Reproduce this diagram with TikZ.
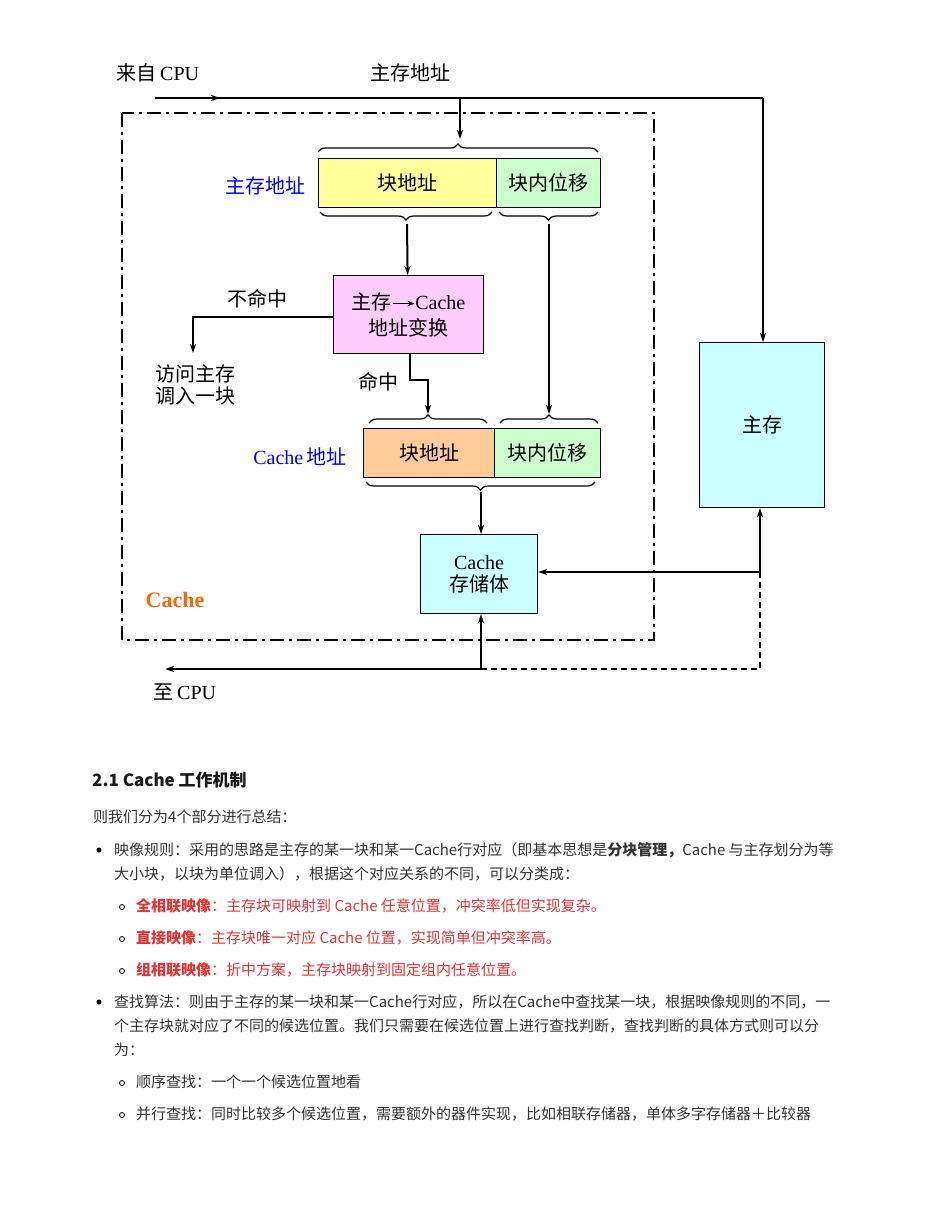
\documentclass[tikz,border=0pt]{standalone}
\usepackage{fontspec}
\setmainfont{Noto Sans CJK SC}
\newfontfamily\lat{Liberation Serif}
\newfontfamily\lsans{Liberation Sans}
\usetikzlibrary{arrows.meta,decorations.pathreplacing}
\definecolor{yel}{HTML}{FFFF99}
\definecolor{grn}{HTML}{CCFFCC}
\definecolor{pnk}{HTML}{FFCCFF}
\definecolor{org}{HTML}{FFCC99}
\definecolor{cyn}{HTML}{CCFFFF}
\definecolor{rd}{HTML}{E53333}
\definecolor{orng}{HTML}{FF6600}
\begin{document}
\begin{tikzpicture}[x=1pt,y=-1pt,
  box/.style={draw,line width=1.2pt,inner sep=0pt,anchor=north west,font=\fontsize{20}{22}\selectfont},
  thick arr/.style={line width=2pt,-{Stealth[length=9pt,width=6pt]}},
  thin arr/.style={line width=1.2pt,-{Stealth[length=9pt,width=6pt]}},
  brc/.style={decorate,decoration={brace,amplitude=8pt},line width=1.2pt},
  lbl/.style={font=\fontsize{20}{22}\selectfont},
  txt/.style={anchor=base west,font=\fontsize{15}{18}\selectfont,inner sep=0pt,text=black!80},
  bul/.style={circle,fill=black,inner sep=0pt,minimum size=5pt},
  sub/.style={circle,draw=black,line width=0.8pt,inner sep=0pt,minimum size=5pt}]
\useasboundingbox (0,0) rectangle (935,1210);
% dash-dot frame
\draw[line width=2pt,dash pattern=on 14pt off 5pt on 3pt off 5pt] (122,113) rectangle (654,640);
% boxes
\node[box,fill=yel,minimum width=178pt,minimum height=49pt] (mb) at (318,158) {块地址};
\node[box,fill=grn,minimum width=104pt,minimum height=49pt] (mo) at (496,158) {块内位移};
\node[box,fill=pnk,minimum width=150pt,minimum height=78pt,align=center] (tr) at (333,275) {主存\raisebox{3pt}{\tikz\draw[line width=1.5pt,-{Stealth[length=7pt]}](0,0)--(22pt,0);}{\lat Cache}\\[4pt]地址变换};
\node[box,fill=org,minimum width=131pt,minimum height=49pt] (cb) at (363,428) {块地址};
\node[box,fill=grn,minimum width=106pt,minimum height=49pt] (co) at (494,428) {块内位移};
\node[box,fill=cyn,minimum width=117pt,minimum height=79pt,align=center] (cs) at (420,534) {{\lat Cache}\\存储体};
\node[box,fill=cyn,minimum width=125pt,minimum height=165pt] (mm) at (699,342) {主存};
% braces
\draw[brc] (318,152) -- (598,152);
\draw[brc] (492,212) -- (320,212);
\draw[brc] (598,212) -- (499,212);
\draw[brc] (369,423) -- (487,423);
\draw[brc] (500,423) -- (598,423);
\draw[brc] (595,482) -- (366,482);
% coordinates
\coordinate (s) at (155,98); \coordinate (t) at (763,98); \coordinate (b) at (460,98);
\coordinate (m1) at (193,317);
\coordinate (h1) at (410,380); \coordinate (h2) at (428,380);
\coordinate (j) at (760,572); \coordinate (d) at (760,669); \coordinate (k) at (481,669);
\coordinate (cpu) at (165,669);
% lines
\draw[line width=1.2pt] (s) -- (t);
\draw[thin arr] (190,98) -- (220,98);
\draw[thin arr,line width=2pt] (t) -- (mm.north -| t);
\draw[thick arr] (b) -- (460,139);
\draw[thick arr] (407,224) -- (mb.south |- tr.north) ;
\draw[thick arr] (549,224) -- (549,414);
\draw[thin arr] (tr.west |- m1) -- (m1) -- (193,353);
\draw[thin arr] (tr.south -| h1) -- (h1) -- (h2) -- (428,414);
\draw[thick arr] (481,492) -- (cs.north -| 481,0);
\draw[thick arr] (j) -- (cs.east |- j);
\draw[thick arr] (j) -- (mm.south -| j);
\draw[line width=2pt,dash pattern=on 6pt off 4pt] (j) -- (d) -- (k);
\draw[thick arr] (k) -- (cs.south -| k);
\draw[thick arr] (k) -- (cpu);
% labels
\node[lbl] (l1) at (158,73) {来自\,{\lat CPU}};
\node[lbl] (l2) at (410,73) {主存地址};
\node[lbl,text=blue] (l3) at (265,186) {主存地址};
\node[lbl] (l4) at (257,299) {不命中};
\node[lbl,align=left] (l5) at (195,385) {访问主存\\调入一块};
\node[lbl] (l6) at (378,382) {命中};
\node[lbl,text=blue] (l7) at (300,457) {{\lat Cache}\,地址};
\node[lbl,text=orng,font=\lat\bfseries\fontsize{22}{24}\selectfont] (l8) at (175,600) {Cache};
\node[lbl] (l9) at (185,692) {至\,{\lat CPU}};
% text section
\node[txt,font=\bfseries\fontsize{17}{20}\selectfont,text=black!90] (h) at (92,786) {2.1 Cache 工作机制};
\node[txt] (p) at (93,822) {则我们分为4个部分进行总结：};
\node[bul] (b1) at (99,850) {};
\node[txt] (a1) at (114,855) {映像规则：采用的思路是主存的某一块和某一Cache行对应（即基本思想是\textbf{分块管理，}Cache 与主存划分为等};
\node[txt] (a2) at (114,879) {大小块，以块为单位调入），根据这个对应关系的不同，可以分类成：};
\node[sub] (c1) at (122,907) {};
\node[txt,text=rd] (r1) at (136,911) {\textbf{全相联映像}：主存块可映射到 Cache 任意位置，冲突率低但实现复杂。};
\node[sub] (c2) at (122,939) {};
\node[txt,text=rd] (r2) at (136,943) {\textbf{直接映像}：主存块唯一对应 Cache 位置，实现简单但冲突率高。};
\node[sub] (c3) at (122,971) {};
\node[txt,text=rd] (r3) at (136,975) {\textbf{组相联映像}：折中方案，主存块映射到固定组内任意位置。};
\node[bul] (b2) at (99,1002) {};
\node[txt] (q1) at (114,1007) {查找算法：则由于主存的某一块和某一Cache行对应，所以在Cache中查找某一块，根据映像规则的不同，一};
\node[txt] (q2) at (114,1031) {个主存块就对应了不同的候选位置。我们只需要在候选位置上进行查找判断，查找判断的具体方式则可以分};
\node[txt] (q3) at (114,1055) {为：};
\node[sub] (c4) at (122,1083) {};
\node[txt] (s1) at (136,1087) {顺序查找：一个一个候选位置地看};
\node[sub] (c5) at (122,1115) {};
\node[txt] (s2) at (136,1119) {并行查找：同时比较多个候选位置，需要额外的器件实现，比如相联存储器，单体多字存储器＋比较器};
\end{tikzpicture}
\end{document}
